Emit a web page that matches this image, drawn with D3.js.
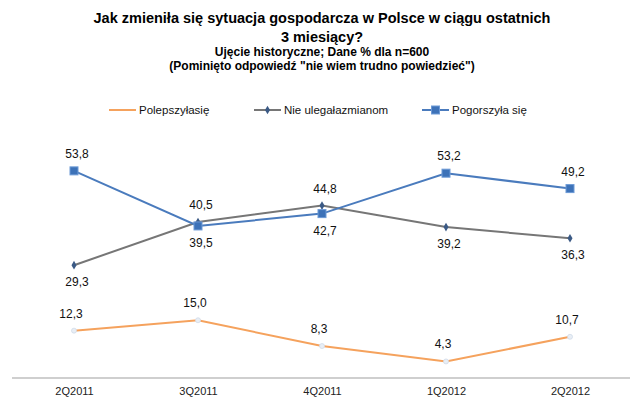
<!DOCTYPE html>
<html><head><meta charset="utf-8">
<script src="https://cdn.jsdelivr.net/npm/d3@7"></script>
<style>body{margin:0;background:#fff}svg{display:block}text{font-family:"Liberation Sans",Arial,sans-serif}</style>
</head><body>
<svg id="c" width="640" height="416"></svg>
<script>
const categories = ["2Q2011","3Q2011","4Q2011","1Q2012","2Q2012"];
const seriesNames = ["Polepszyłasię","Nie ulegałazmianom","Pogorszyła się"];
const better = [12.3,15.0,8.3,4.3,10.7];
const same = [29.3,40.5,44.8,39.2,36.3];
const worse = [53.8,39.5,42.7,53.2,49.2];
const betterLabelSide = ["up","up","up","up","up"];
const sameLabelSide = ["down","up","up","down","down"];
const worseLabelSide = ["up","down","down","up","up"];

const svg = d3.select("#c");
const x = d3.scalePoint().domain(categories).range([12,632]).padding(0.5);
const y = d3.scaleLinear().domain([0,60]).range([378,147]);

// titles
const t = svg.append("g").attr("text-anchor","middle").attr("fill","#000");
t.append("text").attr("x",322).attr("y",23).attr("font-size",14.5).attr("font-weight","bold").text("Jak zmieniła się sytuacja gospodarcza  w Polsce w ciągu ostatnich");
t.append("text").attr("x",322).attr("y",42).attr("font-size",14.5).attr("font-weight","bold").text("3 miesiący?");
t.append("text").attr("x",322).attr("y",56).attr("font-size",12).attr("font-weight","bold").text("Ujęcie historyczne; Dane % dla n=600");
t.append("text").attr("x",322).attr("y",70).attr("font-size",12).attr("font-weight","bold").text("(Pominięto odpowiedź  \"nie wiem trudno powiedzieć\")");

// axis
const xAxis = svg.append("g").attr("transform","translate(0,378)")
  .call(d3.axisBottom(x).tickSize(0).tickPadding(9));
xAxis.select(".domain").attr("d","M12,0H630").attr("stroke","#bfbfbf").attr("stroke-width",1.5);
xAxis.selectAll("text").attr("font-size",11).attr("fill","#222").attr("font-family","\"Liberation Sans\",Arial,sans-serif");

const series = [
  {name:seriesNames[0], vals:better, side:betterLabelSide, color:"#f5a25d", marker:"none"},
  {name:seriesNames[1], vals:same, side:sameLabelSide, color:"#767676", marker:"diamond"},
  {name:seriesNames[2], vals:worse, side:worseLabelSide, color:"#4a7bbd", marker:"square"}
];

const line = d3.line().x((d,i)=>x(categories[i])).y(d=>y(d));
const fmt = v => d3.format(".1f")(v).replace(".",",");

function drawMarker(g, type, cx, cy){
  if(type==="diamond"){
    g.append("path").attr("d",d3.symbol(d3.symbolDiamond,22)()).attr("transform",`translate(${cx},${cy})`).attr("fill","#3b5a85");
  } else if(type==="square"){
    g.append("rect").attr("x",cx-4).attr("y",cy-4).attr("width",8).attr("height",8).attr("fill","#3d72b8").attr("stroke","#6d9ad6").attr("stroke-width",1);
  } else {
    g.append("circle").attr("cx",cx).attr("cy",cy).attr("r",2.5).attr("fill","#e8eef5").attr("stroke","#d0dbe8").attr("stroke-width",0.8);
  }
}

series.forEach(s=>{
  const g = svg.append("g");
  g.append("path").datum(s.vals).attr("d",line).attr("fill","none").attr("stroke",s.color).attr("stroke-width",2);
  s.vals.forEach((v,i)=>drawMarker(g,s.marker,x(categories[i]),y(v)));
  s.vals.forEach((v,i)=>{
    g.append("text").attr("x",x(categories[i])+ (s.marker==="none"?-3:3)).attr("y",y(v)+(s.side[i]==="up"?-13:21))
      .attr("text-anchor","middle").attr("font-size",12).attr("fill","#111").text(fmt(v));
  });
});

// legend
const legendX = [109,254,422];
const lg = svg.append("g");
series.forEach((s,i)=>{
  const lx = legendX[i], ly = 110;
  lg.append("line").attr("x1",lx).attr("x2",lx+27).attr("y1",ly).attr("y2",ly).attr("stroke",s.color).attr("stroke-width",2);
  if(s.marker!=="none") drawMarker(lg,s.marker,lx+13.5,ly);
  lg.append("text").attr("x",lx+30).attr("y",ly+4).attr("font-size",11.5).attr("fill","#111").text(s.name);
});
</script>
</body></html>
